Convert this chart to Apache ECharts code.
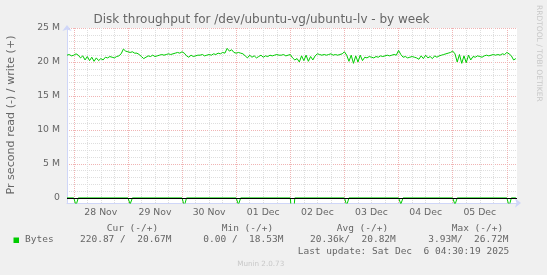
<!DOCTYPE html>
<html><head><meta charset="utf-8">
<script src="https://cdn.jsdelivr.net/npm/echarts@6/dist/echarts.min.js"></script>
<style>html,body{margin:0;padding:0;background:#f0f0f0}#c{width:547px;height:275px}</style>
</head><body><div id="c"></div><script>
// ---- data ----
const titleText = 'Disk throughput for /dev/ubuntu-vg/ubuntu-lv - by week';
const yAxisName = 'Pr second read (-) / write (+)';
const seriesName = 'Bytes';
// write throughput (M bytes/s), one value per hour starting at writeStartHour (hours relative to 28 Nov 00:00)
const writeStartHour = -3;
const writeValues = [
  21.0, 21.1, 20.9, 21.0, 21.2, 21.0,
  20.6, 20.9, 20.3, 20.8, 20.2, 20.7, 20.1, 20.6, 20.2, 20.5, 20.3,
  20.7, 20.6, 20.8, 20.7, 20.6, 20.8, 20.9, 21.2,
  21.9, 21.6,
  21.5, 21.4, 21.5, 21.3, 21.3, 21.1,
  20.8, 20.5, 20.7,
  20.9, 20.8, 21.0, 20.8, 20.9, 21.0, 21.1, 21.0, 21.1, 21.2,
  21.1, 21.2, 21.3, 21.4, 21.3, 21.5, 21.3,
  20.9, 20.7, 21.0, 20.8, 20.9, 21.0,
  21.0, 21.1, 20.9, 21.0, 21.1, 21.0, 21.2, 21.1,
  21.3, 21.2, 21.4, 21.3,
  22.0, 21.6, 21.8,
  21.4, 21.3, 21.4, 21.3, 21.2,
  20.9, 20.6, 21.0, 20.7, 20.9, 20.6, 20.8, 21.0, 20.7, 20.9, 20.8, 21.0, 20.9, 21.0, 21.1, 21.0,
  21.0, 21.1, 20.9, 21.0, 21.1,
  20.6, 20.3, 20.5,
  20.0, 20.9, 20.2, 21.0, 20.1, 20.8, 20.3, 20.9, 21.2,
  21.1, 21.0, 21.1, 21.0, 21.1, 21.2, 21.0, 21.1, 21.0, 21.1, 21.2,
  21.5, 21.0,
  20.1, 21.0, 19.8, 20.9, 20.0, 21.0, 20.2,
  20.7, 20.6, 20.8, 20.7, 20.6, 20.8, 20.7, 20.9, 20.8,
  20.9, 21.0, 20.9, 21.0, 21.1, 21.0,
  21.7, 21.1,
  20.7, 20.8, 20.6, 20.7, 20.8, 20.7, 20.6,
  20.4, 20.9, 20.5, 21.0, 20.6, 20.8, 20.5, 20.9, 20.7, 20.9, 21.0,
  21.1, 21.2, 21.3, 21.4,
  21.6, 21.2,
  20.0, 21.1, 19.8, 20.9, 19.9, 21.0, 20.3,
  20.8, 20.7, 20.9, 20.8, 20.7, 20.9, 21.0, 20.9,
  21.0, 21.1, 21.0, 21.1, 21.0, 21.2, 21.1, 21.4, 21.2,
  20.9, 20.3, 20.5
];
// read throughput (shown negative), hour / value pairs
const readHours  = [-3, 0, 1, 2, 24, 25, 26, 48, 49, 50, 72, 73, 74, 96, 97, 98, 120, 121, 122, 144, 145, 146, 168, 169, 170, 192, 193, 194, 196];
const readValues = [0, 0, -1.1, 0, 0, -0.9, 0, 0, -1.2, 0, 0, -1.0, 0, 0, -3.93, 0, 0, -1.1, 0, 0, -0.9, 0, 0, -1.0, 0, 0, -1.2, 0, 0];
const dayLabelHours = [12, 36, 60, 84, 108, 132, 156, 180];
const dayLabels = ['28 Nov', '29 Nov', '30 Nov', '01 Dec', '02 Dec', '03 Dec', '04 Dec', '05 Dec'];
const yTickValues = [0, 5, 10, 15, 20, 25];
const yTickLabels = ['0', '5 M', '10 M', '15 M', '20 M', '25 M'];
const legendHeaders = ['Cur (-/+)', 'Min (-/+)', 'Avg (-/+)', 'Max (-/+)'];
const legendValues = ['220.87 /  20.67M', '0.00 /  18.53M', '20.36k/  20.82M', '3.93M/  26.72M'];
const lastUpdate = 'Last update: Sat Dec  6 04:30:19 2025';
const footer = 'Munin 2.0.73';
const watermark = 'RRDTOOL / TOBI OETIKER';

// ---- build ----
const writeData = writeValues.map((v, i) => [writeStartHour + i, v]);
const readData = readHours.map((h, i) => [h, readValues[i]]);

const GRID = '#dedede', MGRID = '#f0b4b4', T = 'rgba(0,0,0,0)';
const FONT = '#666666';
const SANS = 'DejaVu Sans';
const MONO = 'DejaVu Sans Mono';
// x ticks every 3h from -3: idx1 = midnight (red), 6h/12h/18h grey
const xColors = [T, MGRID, T, GRID, T, GRID, T, GRID];
// y ticks every 0.25M from -0.75: idx3 = multiple of 5M (red), other integers grey
const yColors = [];
for (let k = 0; k < 20; k++) yColors.push(k === 3 ? MGRID : ((k % 4 === 3) ? GRID : T));

const chart = echarts.init(document.getElementById('c'), null, {renderer: 'canvas'});
chart.setOption({
  animation: false,
  backgroundColor: '#f0f0f0',
  grid: {left: 67, right: 30, top: 28, bottom: 72, containLabel: false, outerBoundsMode: 'none',
         show: true, backgroundColor: '#ffffff', borderWidth: 0},
  xAxis: {
    type: 'value', min: -3, max: 196.5, interval: 3,
    axisLine: {show: true, onZero: false, lineStyle: {color: '#cfd6f8', width: 1},
               symbol: ['none', 'arrow'], symbolSize: [7, 6], symbolOffset: [0, 4]},
    axisTick: {show: false},
    splitLine: {show: true, showMinLine: true, showMaxLine: false,
                lineStyle: {color: xColors, type: [1, 1], width: 1}},
    axisLabel: {show: true, margin: 5, color: FONT, fontFamily: SANS, fontSize: 9.3,
      showMinLabel: true, showMaxLabel: false,
      formatter: function (v) {
        const i = dayLabelHours.findIndex(h => Math.abs(h - v) < 1e-6);
        return i >= 0 ? dayLabels[i] : '';
      }}
  },
  yAxis: {
    type: 'value', min: -0.75, max: 25, interval: 0.25,
    axisLine: {show: true, onZero: false, lineStyle: {color: '#cfd6f8', width: 1},
               symbol: ['none', 'arrow'], symbolSize: [7, 6], symbolOffset: [0, 3]},
    axisTick: {show: false},
    splitLine: {show: true, showMinLine: true, showMaxLine: true,
                lineStyle: {color: yColors, type: [1, 1], width: 1}},
    axisLabel: {show: true, margin: 7, color: FONT, fontFamily: SANS, fontSize: 9.3,
      formatter: function (v) {
        const i = yTickValues.findIndex(t => Math.abs(t - v) < 1e-6);
        return i >= 0 ? yTickLabels[i] : '';
      }}
  },
  series: [
    {name: seriesName, type: 'line', data: writeData, symbol: 'none', clip: true,
     lineStyle: {color: '#00cc00', width: 1}, z: 3},
    {name: seriesName + ' read', type: 'line', data: readData, symbol: 'none', clip: true,
     lineStyle: {color: '#00cc00', width: 1}, z: 3,
     markLine: {silent: true, symbol: 'none', label: {show: false},
       lineStyle: {color: '#000000', width: 1, type: 'solid'},
       data: [{yAxis: 0}], z: 5}}
  ],
  graphic: [
    {type: 'text', x: 261.5, y: 19.5, style: {text: titleText, fill: FONT, font: '12px "' + SANS + '"', align: 'center', verticalAlign: 'middle'}},
    {type: 'text', x: 11, y: 115, rotation: Math.PI / 2, style: {text: yAxisName, fill: FONT, font: '11.1px "' + SANS + '"', align: 'center', verticalAlign: 'middle'}},
    {type: 'text', x: 539, y: 5, rotation: -Math.PI / 2, style: {text: watermark, fill: '#c8c8c8', font: '7.5px "' + SANS + '"', align: 'left', verticalAlign: 'middle'}},
    {type: 'text', x: 106.7, y: 228.5, style: {text: legendHeaders[0], fill: FONT, font: '9.5px "' + MONO + '"', align: 'left', verticalAlign: 'middle'}},
    {type: 'text', x: 221.7, y: 228.5, style: {text: legendHeaders[1], fill: FONT, font: '9.5px "' + MONO + '"', align: 'left', verticalAlign: 'middle'}},
    {type: 'text', x: 336.7, y: 228.5, style: {text: legendHeaders[2], fill: FONT, font: '9.5px "' + MONO + '"', align: 'left', verticalAlign: 'middle'}},
    {type: 'text', x: 451.7, y: 228.5, style: {text: legendHeaders[3], fill: FONT, font: '9.5px "' + MONO + '"', align: 'left', verticalAlign: 'middle'}},
    {type: 'rect', shape: {x: 13.5, y: 237.5, width: 5.5, height: 5.5}, style: {fill: '#00cc00'}},
    {type: 'text', x: 25, y: 240, style: {text: seriesName, fill: FONT, font: '9.5px "' + MONO + '"', align: 'left', verticalAlign: 'middle'}},
    {type: 'text', x: 80, y: 240, style: {text: legendValues[0], fill: FONT, font: '9.5px "' + MONO + '"', align: 'left', verticalAlign: 'middle'}},
    {type: 'text', x: 203.3, y: 240, style: {text: legendValues[1], fill: FONT, font: '9.5px "' + MONO + '"', align: 'left', verticalAlign: 'middle'}},
    {type: 'text', x: 310, y: 240, style: {text: legendValues[2], fill: FONT, font: '9.5px "' + MONO + '"', align: 'left', verticalAlign: 'middle'}},
    {type: 'text', x: 428.3, y: 240, style: {text: legendValues[3], fill: FONT, font: '9.5px "' + MONO + '"', align: 'left', verticalAlign: 'middle'}},
    {type: 'text', x: 297.7, y: 251.5, style: {text: lastUpdate, fill: FONT, font: '9.5px "' + MONO + '"', align: 'left', verticalAlign: 'middle'}},
    {type: 'text', x: 260.7, y: 264.3, style: {text: footer, fill: '#c8c8c8', font: '7.2px "' + SANS + '"', align: 'center', verticalAlign: 'middle'}}
  ]
});
</script></body></html>
